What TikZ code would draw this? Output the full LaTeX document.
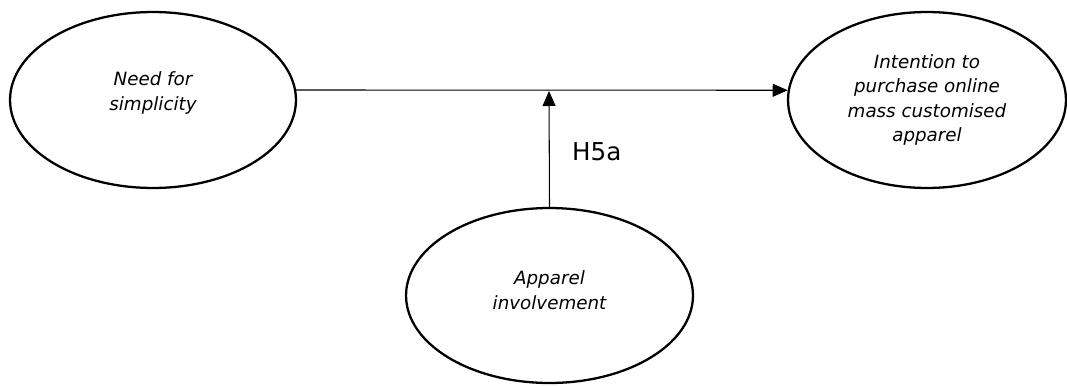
\documentclass[tikz,border=0pt]{standalone}
\usepackage{fontspec}
\setmainfont{DejaVu Sans}
\usetikzlibrary{shapes.geometric}
\usetikzlibrary{arrows.meta}
\usetikzlibrary{positioning}

\begin{document}
\begin{tikzpicture}[x=0.02cm,y=-0.02cm,
  construct/.style={draw,ellipse,line width=1.3pt,inner sep=0pt,align=center,
    font=\fontsize{10.4}{13.9}\selectfont\itshape},
  link/.style={line width=0.6pt,-{Triangle[length=3mm,width=2.6mm]}}]
  \useasboundingbox (0,0) rectangle (1067,385);
  \node[construct,minimum width=5.72cm,minimum height=3.52cm] (need) at (153,100) {Need for\\simplicity\\[-3.7pt]};
  \node[construct,minimum width=5.56cm,minimum height=3.52cm] (intent) at (927,100) {Intention to\\purchase online\\mass customised\\apparel};
  \node[construct,minimum width=5.74cm,minimum height=3.5cm] (involve) at (549.5,295.5) {Apparel\\involvement\\[-7.7pt]};
  \coordinate (meet) at (549,91);
  \draw[link] (need.4) -- (intent.176);
  \draw[link] (involve.north) -- (meet);
  \node[font=\fontsize{14}{16}\selectfont,anchor=west] (h5a) at (566,152) {H5a};
\end{tikzpicture}
\end{document}
